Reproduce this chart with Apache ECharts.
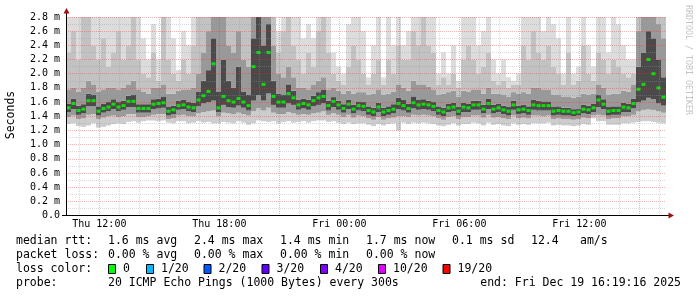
<!DOCTYPE html>
<html><head><meta charset="utf-8">
<script src="https://cdn.jsdelivr.net/npm/echarts@6/dist/echarts.min.js"></script>
<style>html,body{margin:0;padding:0;background:#fff}#c{width:697px;height:297px}</style>
</head><body><div id="c"></div><script>
// ---- time base (minutes since Thu 00:00) ----
const startMinute = 620;      // Thu 10:20
const stepMinutes = 15;
const gridStepMinutes = 20;
const spanMinutes = 1800;     // 30 h
const xTickLabels = ['Thu 12:00', 'Thu 18:00', 'Fri 00:00', 'Fri 06:00', 'Fri 12:00'];

// ---- median rtt (ms), one per 15-min step ----
const median = [
 1.52,1.58,1.48,1.50,1.62,1.62,1.47,1.51,1.53,1.57,
 1.53,1.55,1.61,1.61,1.51,1.51,1.51,1.57,1.58,1.59,
 1.47,1.49,1.55,1.56,1.53,1.52,1.63,1.69,1.75,2.14,
 1.52,1.68,1.62,1.60,1.65,1.60,1.55,2.10,2.30,1.85,
 2.30,1.68,1.60,1.60,1.72,1.66,1.56,1.58,1.56,1.62,
 1.66,1.68,1.55,1.61,1.56,1.51,1.57,1.50,1.55,1.54,
 1.48,1.46,1.53,1.46,1.48,1.50,1.58,1.55,1.51,1.59,
 1.56,1.57,1.56,1.54,1.48,1.46,1.52,1.53,1.47,1.53,
 1.52,1.56,1.56,1.50,1.58,1.50,1.52,1.49,1.47,1.56,
 1.49,1.50,1.48,1.56,1.55,1.55,1.55,1.47,1.48,1.47,
 1.47,1.45,1.46,1.50,1.49,1.52,1.63,1.57,1.47,1.48,
 1.48,1.53,1.52,1.58,1.78,1.85,2.20,2.00,1.80,1.67];

// ---- smoke: ping distribution per step (ms) ----
const pingMin = [
 1.29,1.30,1.26,1.25,1.27,1.30,1.24,1.25,1.27,1.29,
 1.30,1.29,1.32,1.33,1.31,1.33,1.34,1.34,1.33,1.34,
 1.31,1.30,1.33,1.33,1.30,1.31,1.33,1.31,1.32,1.30,
 1.30,1.32,1.31,1.30,1.33,1.31,1.28,1.30,1.34,1.33,
 1.32,1.33,1.30,1.32,1.33,1.31,1.32,1.33,1.31,1.33,
 1.34,1.34,1.32,1.33,1.31,1.29,1.31,1.29,1.30,1.30,
 1.28,1.26,1.29,1.27,1.29,1.30,1.20,1.31,1.29,1.31,
 1.30,1.31,1.30,1.29,1.27,1.26,1.28,1.30,1.27,1.29,
 1.29,1.31,1.30,1.27,1.31,1.28,1.29,1.27,1.26,1.30,
 1.28,1.29,1.28,1.30,1.30,1.30,1.31,1.27,1.28,1.27,
 1.27,1.26,1.27,1.29,1.28,1.37,1.33,1.33,1.28,1.28,
 1.28,1.30,1.30,1.31,1.32,1.33,1.33,1.32,1.31,1.30];
const ping10 = [
 1.39,1.41,1.36,1.37,1.42,1.43,1.36,1.38,1.40,1.41,
 1.39,1.40,1.43,1.43,1.39,1.39,1.40,1.42,1.43,1.43,
 1.36,1.37,1.41,1.42,1.40,1.40,1.44,1.46,1.47,1.48,
 1.40,1.45,1.44,1.43,1.45,1.43,1.41,1.47,1.51,1.48,
 1.52,1.45,1.43,1.43,1.46,1.44,1.42,1.43,1.42,1.44,
 1.45,1.47,1.42,1.44,1.42,1.39,1.42,1.38,1.41,1.40,
 1.37,1.35,1.39,1.35,1.37,1.38,1.40,1.40,1.39,1.42,
 1.41,1.42,1.41,1.40,1.37,1.35,1.39,1.40,1.36,1.39,
 1.39,1.41,1.41,1.38,1.42,1.38,1.39,1.37,1.36,1.41,
 1.37,1.38,1.37,1.41,1.41,1.40,1.41,1.36,1.37,1.36,
 1.36,1.35,1.36,1.38,1.37,1.41,1.42,1.41,1.36,1.37,
 1.37,1.40,1.40,1.42,1.47,1.49,1.50,1.49,1.47,1.45];
const ping25 = [
 1.46,1.50,1.42,1.44,1.54,1.54,1.41,1.45,1.47,1.50,
 1.47,1.49,1.53,1.53,1.45,1.45,1.45,1.50,1.51,1.52,
 1.41,1.43,1.49,1.50,1.47,1.46,1.54,1.58,1.60,1.62,
 1.46,1.56,1.53,1.52,1.55,1.52,1.48,1.62,1.70,1.62,
 1.72,1.56,1.52,1.52,1.58,1.56,1.49,1.51,1.49,1.54,
 1.56,1.58,1.48,1.53,1.49,1.45,1.50,1.44,1.48,1.47,
 1.42,1.40,1.46,1.40,1.42,1.44,1.50,1.48,1.45,1.51,
 1.49,1.50,1.49,1.47,1.42,1.40,1.46,1.47,1.41,1.46,
 1.46,1.49,1.49,1.44,1.50,1.44,1.46,1.43,1.41,1.49,
 1.43,1.44,1.42,1.49,1.48,1.48,1.48,1.41,1.42,1.41,
 1.41,1.40,1.41,1.44,1.43,1.46,1.53,1.50,1.41,1.42,
 1.42,1.46,1.46,1.51,1.60,1.62,1.66,1.64,1.58,1.55];
const ping75 = [
 1.58,1.65,1.55,1.57,1.72,1.70,1.54,1.58,1.60,1.64,
 1.60,1.62,1.69,1.70,1.57,1.57,1.57,1.64,1.65,1.68,
 1.53,1.55,1.62,1.63,1.60,1.59,1.75,1.90,2.05,2.50,
 1.75,2.20,1.90,1.80,2.10,1.75,1.70,2.50,2.80,2.40,
 2.70,1.90,1.72,1.70,1.85,1.76,1.63,1.65,1.63,1.69,
 1.74,1.77,1.62,1.67,1.62,1.57,1.63,1.56,1.61,1.60,
 1.54,1.52,1.59,1.52,1.54,1.57,1.66,1.63,1.58,1.68,
 1.63,1.64,1.62,1.60,1.54,1.52,1.58,1.59,1.53,1.59,
 1.58,1.62,1.62,1.56,1.65,1.56,1.58,1.55,1.53,1.62,
 1.55,1.56,1.54,1.63,1.62,1.61,1.61,1.53,1.54,1.52,
 1.52,1.50,1.51,1.56,1.55,1.58,1.70,1.64,1.53,1.54,
 1.54,1.59,1.58,1.65,2.10,2.30,2.60,2.50,2.20,1.95];
const ping90 = [
 1.78,1.80,1.75,1.80,1.90,1.85,1.75,1.78,1.80,1.80,
 1.78,1.80,1.85,1.90,1.78,1.75,1.72,1.80,1.80,1.85,
 1.72,1.72,1.76,1.78,1.78,1.80,2.00,2.30,2.60,2.80,
 2.80,2.80,2.40,2.30,2.60,2.20,2.10,2.80,2.80,2.80,
 2.80,2.40,2.00,1.95,2.10,1.95,1.80,1.80,1.78,1.85,
 1.90,1.95,1.78,1.80,1.76,1.72,1.76,1.72,1.74,1.74,
 1.70,1.72,1.78,1.70,1.72,1.75,1.85,1.80,1.76,1.90,
 1.85,1.85,1.82,1.78,1.70,1.72,1.74,1.76,1.68,1.76,
 1.75,1.78,1.78,1.72,1.80,1.72,1.72,1.70,1.68,1.74,
 1.72,1.74,1.72,1.80,1.80,1.78,1.78,1.70,1.70,1.68,
 1.68,1.66,1.68,1.72,1.70,1.72,1.85,1.80,1.70,1.72,
 1.72,1.76,1.75,1.85,2.60,2.80,2.80,2.80,2.70,2.50];
const ping95 = [
 2.30,2.60,2.20,2.80,2.80,2.40,2.20,2.50,2.10,2.30,
 2.60,2.20,2.40,2.80,2.20,2.00,1.95,2.30,1.90,2.80,
 2.20,2.00,1.90,2.20,2.00,2.40,2.80,2.80,2.80,2.80,
 2.80,2.80,2.80,2.80,2.80,2.80,2.80,2.80,2.80,2.80,
 2.80,2.80,2.30,2.60,2.80,2.40,2.20,2.00,2.30,2.10,
 2.60,2.80,2.30,2.00,1.90,1.85,2.10,2.40,2.20,2.00,
 1.85,2.00,2.20,1.85,2.20,2.00,2.40,2.20,2.20,2.60,
 2.40,2.80,2.40,2.30,1.85,1.95,1.85,2.00,1.80,2.20,
 2.40,2.20,2.00,2.10,2.30,1.90,1.85,1.90,1.80,1.85,
 1.85,2.40,2.20,2.60,2.30,2.20,2.40,2.10,2.00,1.85,
 2.30,1.85,1.90,2.40,2.00,1.90,2.30,2.20,2.00,2.20,
 2.10,2.00,1.95,2.00,2.80,2.80,2.80,2.80,2.80,2.80];
const pingMax = [
 2.80,2.80,2.80,2.80,2.80,2.80,2.80,2.80,2.80,2.80,
 2.80,2.80,2.80,2.80,2.80,2.50,2.20,2.70,2.20,2.80,
 2.80,2.50,2.05,2.60,2.40,2.80,2.80,2.80,2.80,2.80,
 2.80,2.80,2.80,2.80,2.80,2.80,2.80,2.80,2.80,2.80,
 2.80,2.80,2.60,2.80,2.80,2.80,2.80,2.50,2.70,2.50,
 2.80,2.80,2.80,2.30,2.10,2.00,2.70,2.80,2.80,2.60,
 1.95,2.40,2.80,1.95,2.80,2.40,2.80,2.40,2.60,2.80,
 2.80,2.80,2.80,2.80,2.00,2.30,2.00,2.40,1.90,2.80,
 2.80,2.80,2.40,2.60,2.80,2.20,2.00,2.20,1.95,1.90,
 2.00,2.80,2.80,2.80,2.80,2.60,2.80,2.70,2.50,2.00,
 2.80,2.00,2.10,2.80,2.40,2.10,2.80,2.80,2.30,2.80,
 2.70,2.40,2.20,2.20,2.80,2.80,2.80,2.80,2.80,2.80];

// ---- legend texts ----
const medianStats = ['1.6 ms avg', '2.4 ms max', '1.4 ms min', '1.7 ms now', '0.1 ms sd', '12.4', 'am/s'];
const lossStats = ['0.00 % avg', '0.00 % max', '0.00 % min', '0.00 % now'];
const lossLabels = ['0', '1/20', '2/20', '3/20', '4/20', '10/20', '19/20'];
const lossColors = ['#00ff00', '#00b8ff', '#0059ff', '#5e00ff', '#7e00ff', '#dd00ff', '#ff0000'];
const probeText = '20 ICMP Echo Pings (1000 Bytes) every 300s';
const endText = 'end: Fri Dec 19 16:19:16 2025';

// ---- layout ----
const G = {left: 66, top: 17, width: 600, height: 198.5};
const MONO = '"DejaVu Sans Mono", monospace';
const MAJOR = 'rgba(220,50,50,0.36)';
const MINOR = 'rgba(150,150,150,0.36)';
const SHADES = ['#cdcdcd', '#9a9a9a', '#4a4a4a', '#999999', '#c2c2c2', '#dcdcdc'];

function fmtMinute(m) {
  const day = m >= 1440 ? 'Fri' : 'Thu';
  const mm = m % 1440;
  const h = Math.floor(mm / 60), mi = mm % 60;
  return day + ' ' + String(h).padStart(2, '0') + ':' + String(mi).padStart(2, '0');
}
const stepCats = median.map((_, i) => String(startMinute + i * stepMinutes));
const gridCats = [];
for (let m = startMinute; m <= startMinute + spanMinutes; m += gridStepMinutes) gridCats.push(String(m));

const diff = (lo, hi) => hi.map((h, i) => +Math.max(0, h - lo[i]).toFixed(3));
const layers = [
  [pingMin, 'rgba(0,0,0,0)'],
  [diff(pingMin, ping10), SHADES[0]],
  [diff(ping10, ping25), SHADES[1]],
  [diff(ping25, ping75), SHADES[2]],
  [diff(ping75, ping90), SHADES[3]],
  [diff(ping90, ping95), SHADES[4]],
  [diff(ping95, pingMax), SHADES[5]]
];
const series = layers.map(([d, c]) => ({
  type: 'bar', stack: 'smoke', xAxisIndex: 0, yAxisIndex: 0, data: d,
  barCategoryGap: '0%', itemStyle: {color: c}, silent: true, z: 2
}));
series.push({
  type: 'scatter', xAxisIndex: 0, yAxisIndex: 0, data: median,
  symbol: 'rect', symbolSize: [4, 3], itemStyle: {color: '#00ff00'}, z: 6, silent: true
});

const isHour = v => (+v) % 60 === 0;
const is3Hour = v => (+v) % 180 === 0;

// ---- graphic decorations (axes, arrows, texts) ----
const axX = G.left + 0.5, axY = G.top + G.height;
const graphic = [
  {type: 'line', z: 10, shape: {x1: axX, y1: axY, x2: axX, y2: G.top - 4}, style: {stroke: '#000', lineWidth: 1}},
  {type: 'line', z: 10, shape: {x1: G.left - 4, y1: axY, x2: G.left + G.width + 3, y2: axY}, style: {stroke: '#000', lineWidth: 1}},
  {type: 'polygon', z: 10, shape: {points: [[axX - 3, G.top - 3.5], [axX + 3, G.top - 3.5], [axX, G.top - 9]]}, style: {fill: '#a01010'}},
  {type: 'polygon', z: 10, shape: {points: [[G.left + G.width + 2.5, axY - 3], [G.left + G.width + 2.5, axY + 3], [G.left + G.width + 8, axY]]}, style: {fill: '#a01010'}},
  {type: 'text', x: 11, y: 115, rotation: Math.PI / 2, style: {text: 'Seconds', font: '11.5px ' + MONO, fill: '#000', align: 'center', verticalAlign: 'middle'}},
  {type: 'text', x: 688, y: 60, rotation: -Math.PI / 2, style: {text: 'RRDTOOL / TOBI OETIKER', font: '8.3px ' + MONO, fill: '#c4c4c4', align: 'center', verticalAlign: 'middle'}}
];
const rowY = [241, 255, 269, 283];
const colX = [108, 194, 280, 366, 452, 531, 580];
const T = (text, x, y, align) => ({type: 'text', x, y, style: {text, font: '11.5px ' + MONO, fill: '#000', align: align || 'left', verticalAlign: 'middle'}});
graphic.push(T('median rtt:', 16, rowY[0]));
medianStats.forEach((s, i) => graphic.push(T(s, colX[i], rowY[0])));
graphic.push(T('packet loss:', 16, rowY[1]));
lossStats.forEach((s, i) => graphic.push(T(s, colX[i], rowY[1])));
graphic.push(T('loss color:', 16, rowY[2]));
const boxX = [108, 146, 203.5, 261.5, 320, 378, 442.5];
lossLabels.forEach((s, i) => {
  graphic.push({type: 'rect', shape: {x: boxX[i] + 0.5, y: rowY[2] - 4.5, width: 7, height: 9}, style: {fill: lossColors[i], stroke: '#000', lineWidth: 1}});
  graphic.push(T(s, boxX[i] + 15, rowY[2]));
});
graphic.push(T('probe:', 16, rowY[3]));
graphic.push(T(probeText, 108, rowY[3]));
graphic.push(T(endText, 681, rowY[3], 'right'));

const catAxisBase = {
  type: 'category', gridIndex: 0, boundaryGap: false, data: gridCats, z: 3,
  axisLine: {show: false}, axisTick: {show: false}
};

const option = {
  animation: false,
  backgroundColor: '#ffffff',
  grid: [{left: G.left, top: G.top, width: G.width, height: G.height, containLabel: false}],
  xAxis: [
    {type: 'category', gridIndex: 0, data: stepCats, boundaryGap: true, show: false},
    Object.assign({}, catAxisBase, {
      position: 'bottom',
      axisLabel: {
        show: true, interval: (i, v) => xTickLabels.includes(fmtMinute(+v)),
        formatter: v => fmtMinute(+v), fontFamily: MONO, fontSize: 10, color: '#000', margin: 4
      },
      splitLine: {show: true, interval: (i, v) => isHour(v) && !is3Hour(v), lineStyle: {color: MINOR, type: [1, 1], width: 1}}
    }),
    Object.assign({}, catAxisBase, {
      position: 'top',
      axisLabel: {show: false},
      splitLine: {show: true, interval: (i, v) => is3Hour(v), lineStyle: {color: MAJOR, type: [1, 1], width: 1}}
    })
  ],
  yAxis: [{
    type: 'value', gridIndex: 0, min: 0, max: 2.8, interval: 0.2, z: 3,
    axisLine: {show: false}, axisTick: {show: false},
    axisLabel: {
      fontFamily: MONO, fontSize: 10, color: '#000', margin: 6,
      formatter: v => { const t = Math.round(v * 10); return t === 0 ? '0.0' : (t / 10).toFixed(1) + ' m'; }
    },
    minorTick: {show: false, splitNumber: 2},
    minorSplitLine: {show: true, lineStyle: {color: MINOR, type: [1, 1], width: 1}},
    splitLine: {show: true, lineStyle: {color: MAJOR, type: [1, 1], width: 1}}
  }],
  series,
  graphic
};
const chart = echarts.init(document.getElementById('c'), null, {renderer: 'canvas'});
chart.setOption(option);
</script></body></html>
